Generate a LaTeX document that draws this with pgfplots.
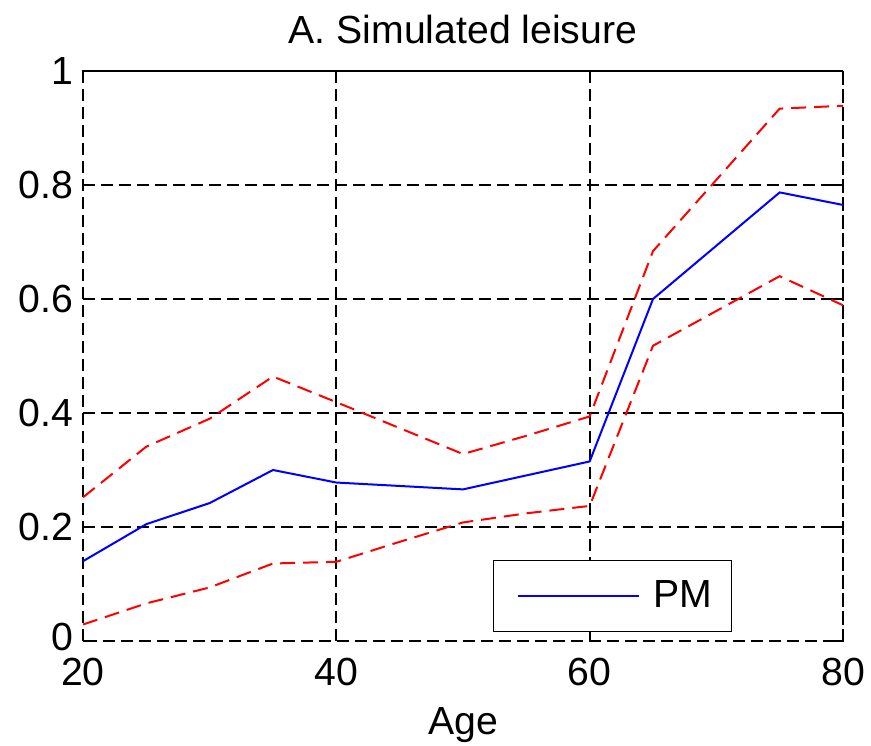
\documentclass[border=0pt]{standalone}
\usepackage{pgfplots}
\pgfplotsset{compat=1.18}
\usepackage{fontspec}
\setmainfont{Liberation Sans}
\begin{document}
\begin{tikzpicture}
\begin{axis}[
  scale only axis, width=380pt, height=285pt,
  xmin=20, xmax=80, ymin=0, ymax=1,
  xtick={20,40,60,80}, ytick={0.2,0.4,0.6,0.8,1},
  yticklabels={0.2,0.4,0.6,0.8,1},
  extra y ticks={0}, extra y tick labels={0},
  extra y tick style={grid=none, yticklabel style={yshift=2.25pt}},
  /pgf/number format/assume math mode=true,
  tick label style={font=\fontsize{19.6}{22}\selectfont, black},
  xticklabel style={yshift=-5pt},
  yticklabel style={xshift=-1.5pt},
  label style={font=\fontsize{19.6}{22}\selectfont},
  xlabel style={yshift=-4pt},
  title style={font=\fontsize{19.6}{22}\selectfont, yshift=4pt},
  title={A. Simulated leisure},
  xlabel={Age},
  grid=major,
  major grid style={black, dash pattern=on 6pt off 3pt, line width=0.85pt},
  axis line style={black, dash pattern=on 6pt off 3pt, line width=0.85pt},
  tick align=inside, major tick length=5pt,
  tick style={black, line width=0.85pt},
  xtick pos=both, ytick pos=both,
  legend style={at={(axis cs:52.35,0.0155)}, anchor=south west, draw=black, line width=0.7pt,
    font=\fontsize{19.6}{22}\selectfont, inner xsep=7.5pt, inner ysep=8.25pt},
  legend image code/.code={\path[draw=none] (0pt,0pt) -- (70.5pt,0pt); \draw[#1] (5pt,0pt) -- (65.5pt,0pt);},
]
\addplot[red, line width=1pt, dash pattern=on 7.5pt off 4pt, forget plot] coordinates {
(20,0.252) (25,0.341) (30,0.390) (35,0.464) (40,0.419) (50,0.328) (55,0.360) (60,0.394) (65,0.684) (75,0.934) (80,0.939)};
\addplot[red, line width=1pt, dash pattern=on 7.5pt off 4pt, forget plot] coordinates {
(20,0.029) (25,0.066) (30,0.094) (35,0.136) (40,0.139) (45,0.174) (50,0.208) (55,0.224) (60,0.237) (65,0.518) (75,0.640) (80,0.589)};
\addplot[blue, line width=1pt] coordinates {
(20,0.140) (25,0.205) (30,0.242) (35,0.300) (40,0.278) (50,0.266) (60,0.315) (65,0.600) (75,0.787) (80,0.765)};
\addlegendentry{PM}
\end{axis}
\pgfresetboundingbox
\path[use as bounding box] ([xshift=-41.5pt,yshift=-52pt]current axis.south west) rectangle ([xshift=14pt,yshift=35.5pt]current axis.north east);
\end{tikzpicture}
\end{document}
